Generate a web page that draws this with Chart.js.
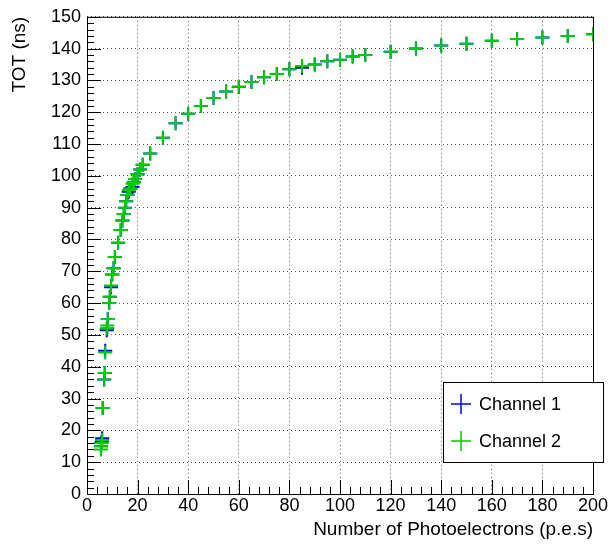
<!DOCTYPE html>
<html>
<head>
<script src="https://cdn.jsdelivr.net/npm/chart.js@4"></script>
<style>
body { margin: 0; background: #fff; }
#wrap { width: 613px; height: 545px; }
</style>
</head>
<body>
<div id="wrap"><canvas id="myChart" width="613" height="545"></canvas></div>
<script>
'use strict'

const npe = [5.5, 5.6, 5.8, 6, 6.2, 6.8, 7, 7.2, 7.8, 8, 8.2, 8.8, 9, 9.5, 10, 10.5, 11, 12.3, 13.3, 14, 14.5, 15, 15.5, 16, 16.5, 17, 18, 18.5, 19, 20, 21, 22,
    25, 30, 35, 40, 45, 50, 55, 60, 65, 70, 75, 80, 85, 90, 95, 100, 105, 110, 120, 130, 140, 150, 160, 170, 180, 190, 200]
const totCh1 = [15, 16, 16.5, 17.5, 27, 36, 38, 45, 51.5, 52, 55, 60, 62, 65, 69, 71, 74.5, 79, 83, 86, 88, 90, 92, 94, 95, 96, 96.5, 98, 99, 100.5, 102, 103.5,
    107, 112, 116.5, 119.5, 122, 124.5, 126.5, 128, 129.5, 131, 132, 133.5, 134, 135, 136, 136.5, 137.5, 138, 139, 140, 141, 141.5, 142.5, 143, 143.5, 144, 144.5]
const totCh2 = [14, 15, 16, 17, 27, 36, 38, 44.5, 52, 53, 55, 60, 62, 65.5, 69, 71, 74.5, 79, 83, 86, 88, 90, 92, 94, 95.5, 96, 97.5, 98, 99, 100.5, 102, 103.5,
    107, 112, 116.5, 119.5, 122, 124.5, 126.5, 128, 129.5, 131, 132, 133.5, 134.5, 135, 136, 136.5, 137.5, 138, 139, 140, 141, 141.5, 142.5, 143, 143.5, 144, 144.5]
const seriesNames = ['Channel 1', 'Channel 2']
const seriesColors = ['#0000ff', '#00cc00']

function toPoints(ys) {
    return npe.map((x, i) => ({ x: x, y: ys[i] }))
}

const FONT = 'Liberation Sans, Arial, sans-serif'

const legendPlugin = {
    id: 'boxLegend',
    afterDraw(chart) {
        const ctx = chart.ctx
        ctx.save()
        ctx.fillStyle = '#fff'
        ctx.fillRect(443, 382, 160, 80)
        ctx.strokeStyle = '#000'
        ctx.lineWidth = 1
        ctx.strokeRect(443.5, 382.5, 160, 80)
        ctx.font = '18px ' + FONT
        ctx.textBaseline = 'middle'
        seriesNames.forEach((name, i) => {
            const y = 404 + i * 37
            ctx.strokeStyle = seriesColors[i]
            ctx.lineWidth = 1.5
            ctx.beginPath()
            ctx.moveTo(451, y); ctx.lineTo(471, y)
            ctx.moveTo(461, y - 10); ctx.lineTo(461, y + 10)
            ctx.stroke()
            ctx.fillStyle = '#000'
            ctx.fillText(name, 479, y + 1)
        })
        ctx.restore()
    }
}

const tickPlugin = {
    id: 'inTicks',
    afterDraw(chart) {
        const ctx = chart.ctx
        const a = chart.chartArea
        const xs = chart.scales.x, ys = chart.scales.y
        ctx.save()
        ctx.strokeStyle = '#000'
        ctx.lineWidth = 1
        ctx.beginPath()
        for (let v = 0; v <= 200; v += 4) {
            const px = Math.round(xs.getPixelForValue(v)) + 0.5
            const len = v % 20 === 0 ? 14 : 7
            ctx.moveTo(px, a.bottom); ctx.lineTo(px, a.bottom - len)
        }
        for (let v = 0; v <= 150; v += 2) {
            const py = Math.round(ys.getPixelForValue(v)) + 0.5
            const len = v % 10 === 0 ? 14 : 7
            ctx.moveTo(a.left, py); ctx.lineTo(a.left + len, py)
        }
        ctx.stroke()
        ctx.strokeRect(a.left + 0.5, a.top + 0.5, a.right - a.left, a.bottom - a.top)
        ctx.restore()
    }
}

function renderChart() {
    const ctx = document.getElementById('myChart')
    new Chart(ctx, {
        type: 'scatter',
        data: {
            datasets: [0, 1].map(i => ({
                label: seriesNames[i],
                data: toPoints(i === 0 ? totCh1 : totCh2),
                order: 2 - i,
                pointStyle: 'cross',
                pointRadius: 7,
                pointHoverRadius: 7,
                borderWidth: 2,
                borderColor: seriesColors[i],
                backgroundColor: seriesColors[i]
            }))
        },
        options: {
            responsive: false,
            animation: false,
            layout: { padding: { top: 16, right: 20, left: 0, bottom: 0 } },
            plugins: { legend: { display: false }, tooltip: { enabled: false } },
            scales: {
                x: {
                    type: 'linear', min: 0, max: 200,
                    afterFit(s) { s.height = 51 },
                    ticks: { stepSize: 20, color: '#000', font: { family: FONT, size: 18 }, padding: 1, maxRotation: 0 },
                    grid: { color: '#555', lineWidth: 1, drawTicks: false },
                    border: { display: false, dash: [1, 3] },
                    title: { display: true, text: 'Number of Photoelectrons (p.e.s)', align: 'end', color: '#000', font: { family: FONT, size: 19 }, padding: { top: -3 } }
                },
                y: {
                    min: 0, max: 150,
                    afterFit(s) { s.width = 87 },
                    ticks: { stepSize: 10, color: '#000', font: { family: FONT, size: 18 }, padding: 6 },
                    grid: { color: '#555', lineWidth: 1, drawTicks: false },
                    border: { display: false, dash: [1, 3] },
                    title: { display: true, text: 'TOT (ns)', align: 'end', color: '#000', font: { family: FONT, size: 19 }, padding: { top: 8, bottom: 0 } }
                }
            }
        },
        plugins: [tickPlugin, legendPlugin]
    })
}

Chart.register({
    id: 'dots',
    beforeInit(chart) {
        chart.options.scales.x.grid.borderDash = [1, 3]
    }
})
renderChart()
</script>
</body>
</html>
